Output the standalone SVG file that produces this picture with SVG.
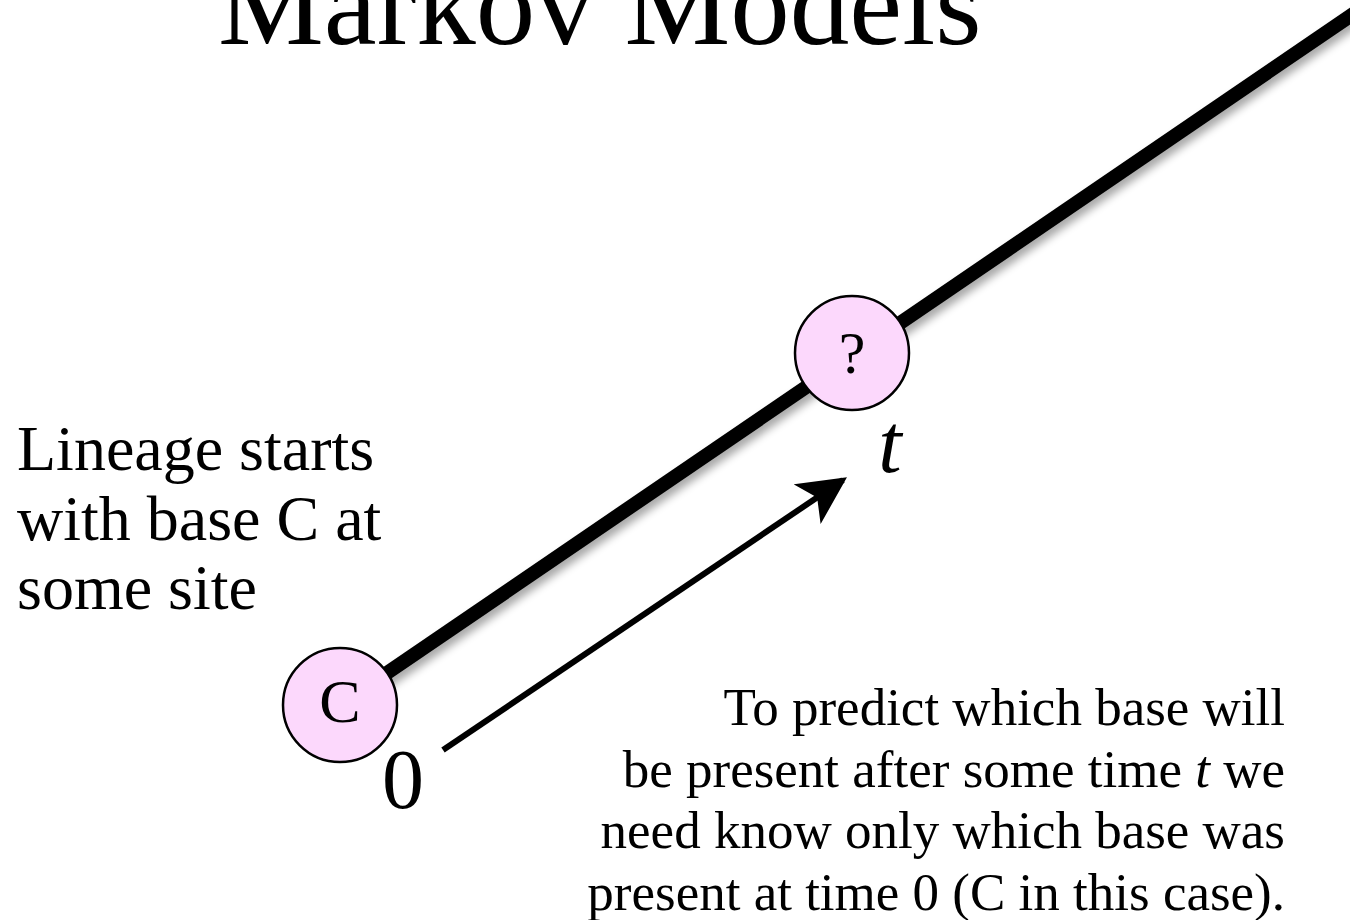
<svg xmlns="http://www.w3.org/2000/svg" width="1350" height="920" viewBox="0 0 1350 920">
<style>
.serif{font-family:"Liberation Serif","Times New Roman",serif;fill:#000}
.node{fill:#fcd8fc;stroke:#000;stroke-width:2.5}
</style>
<defs>
<filter id="sh" x="-10%" y="-10%" width="130%" height="130%">
<feGaussianBlur in="SourceAlpha" stdDeviation="4"/>
<feOffset dx="3" dy="6" result="b"/>
<feComponentTransfer><feFuncA type="linear" slope="0.35"/></feComponentTransfer>
<feMerge><feMergeNode/><feMergeNode in="SourceGraphic"/></feMerge>
</filter>
<marker id="ah" viewBox="0 0 10 10" refX="9" refY="5" markerWidth="8" markerHeight="8" orient="auto" markerUnits="strokeWidth">
<path d="M0,0 L10,5 L0,10 L2.5,5 z" fill="#000"/>
</marker>
</defs>
<rect width="1350" height="920" fill="#fff"/>
<text class="serif" x="218" y="44" font-size="119">Markov Models</text>
<g id="connectors">
<line x1="340" y1="705" x2="1356" y2="12" stroke="#000" stroke-width="14" filter="url(#sh)"/>
<line x1="443" y1="750" x2="843" y2="480" stroke="#000" stroke-width="6" marker-end="url(#ah)"/>
</g>
<g id="node-C">
<circle class="node" cx="340" cy="705" r="57"/>
<text class="serif" x="340" y="722" font-size="62" text-anchor="middle">C</text>
</g>
<g id="node-q">
<circle class="node" cx="852" cy="353" r="57"/>
<text class="serif" x="852" y="373" font-size="60" text-anchor="middle">?</text>
</g>
<text class="serif" x="403" y="808" font-size="84" text-anchor="middle">0</text>
<text class="serif" x="890" y="472" font-size="84" font-style="italic" text-anchor="middle">t</text>
<g class="serif" font-size="64">
<text x="17" y="470">Lineage starts</text>
<text x="17" y="540">with base C at</text>
<text x="17" y="609">some site</text>
</g>
<g class="serif" font-size="53" text-anchor="end">
<text x="1285" y="725">To predict which base will</text>
<text x="1285" y="787">be present after some time <tspan font-style="italic">t</tspan> we</text>
<text x="1285" y="848">need know only which base was</text>
<text x="1285" y="910">present at time 0 (C in this case).</text>
</g>
</svg>
